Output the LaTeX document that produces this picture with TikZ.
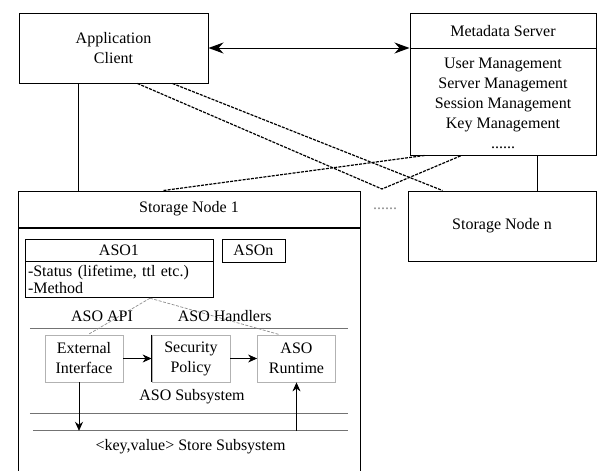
\documentclass[tikz,border=0pt]{standalone}
\usepackage{fontspec}
\setmainfont{Liberation Serif}
\usetikzlibrary{arrows.meta,positioning,calc}

\begin{document}
\begin{tikzpicture}[
    x=1pt, y=-1pt,
    >={Stealth[length=15pt, width=11pt]},
    every node/.style={font=\fontsize{16}{20}\selectfont, inner sep=0pt},
    sysbox/.style={rectangle, draw, line width=1pt, align=center},
    subbox/.style={rectangle, draw=black!30, line width=0.8pt, align=center, minimum width=78pt, minimum height=47pt},
    arrow/.style={-{Stealth[length=9pt, width=8pt]}, line width=0.8pt},
    link/.style={line width=1.2pt, dash pattern=on 3pt off 1.2pt},
    hint/.style={draw=black!45, line width=0.7pt, dash pattern=on 3pt off 1.5pt},
]
\useasboundingbox (0,0) rectangle (603,471);

% client and metadata server
\node[sysbox, minimum width=189pt, minimum height=70pt] (client) at (113.5,48) {Application\\Client};
\node[sysbox, minimum width=186pt, minimum height=142pt] (meta) at (503,84) {};
\node[minimum width=186pt, minimum height=36pt, below=0pt of meta.north] (metatitle) {Metadata Server};
\draw[line width=1pt] (metatitle.south west) -- (metatitle.south east);
\node[align=center] (metabody) at (503,103) {User Management\\Server Management\\Session Management\\Key Management\\......};

% storage nodes
\node[sysbox, minimum width=342pt, minimum height=36pt] (sn1) at (189,209) {Storage Node 1};
\node[sysbox, minimum width=342pt, minimum height=260pt, below=0pt of sn1] (sn1body) {};
\node[sysbox, minimum width=188pt, minimum height=70pt] (snn) at (502,226) {Storage Node n};
\node[text=black!45] (gap) at (385,209) {......};

\draw[<->, line width=1pt] (client.east) -- (client.east -| meta.west);
\draw[line width=0.8pt] ([xshift=60pt]client.south west) -- ([xshift=60pt]client.south west |- sn1.north);
\draw[line width=0.8pt] ([xshift=-59pt]meta.south east) -- ([xshift=-59pt]meta.south east |- snn.north);

\coordinate (vtip) at (382,189);
\draw[link] ([xshift=119pt]client.south west) -- (vtip) -- ([xshift=52pt]meta.south west);
\draw[link] ([xshift=154pt]client.south west) -- ([xshift=35pt]snn.north west);
\draw[link] ([xshift=146pt]sn1.north west) -- ([xshift=15pt]meta.south west);

% active storage objects
\node[sysbox, line width=0.8pt, minimum width=188pt, minimum height=22pt] (aso1) at (119,250) {ASO1};
\node[sysbox, line width=0.8pt, text width=182pt, inner xsep=3pt, minimum height=36pt, align=left,
      font=\fontsize{16}{17}\selectfont, below=0pt of aso1] (aso1body) {-Status (lifetime, ttl etc.)\\-Method};
\node[sysbox, line width=0.8pt, minimum width=63pt, minimum height=23pt] (ason) at (253.5,250.5) {ASOn};

% ASO subsystem
\node[minimum width=318pt, minimum height=84pt] (asosub) at (189,371) {};
\draw[black!55, line width=0.8pt] (asosub.north west) -- (asosub.north east) (asosub.south west) -- (asosub.south east);
\node (asosublabel) at (192,397) {ASO Subsystem};
\node[subbox] (ext) at (84,358.5) {External\\Interface};
\node[subbox] (sec) at (191,358.5) {Security\\Policy};
\draw[line width=1pt] (sec.north west) -- (sec.south west);
\node[subbox] (run) at (296.5,358.5) {ASO\\Runtime};

\node[minimum width=315pt, minimum height=32pt] (store) at (190.5,447) {\textless key,value\textgreater{} Store Subsystem};
\draw[black!55, line width=0.8pt] (store.north west) -- (store.north east);

\draw[arrow] (ext.east) -- (sec.west);
\draw[arrow] (sec.east) -- (run.west);
\draw[arrow] ([xshift=-5pt]ext.south) -- ([xshift=-5pt]ext.south |- store.north);
\draw[arrow] (run.south |- store.north) -- (run.south);

\coordinate (apiorigin) at ([xshift=31pt]aso1body.south);
\draw[hint] (apiorigin) -- node[xshift=-17pt] (apilabel) {ASO API} ([xshift=4pt]ext.north);
\draw[hint] (apiorigin) -- node[xshift=10pt] (handlerlabel) {ASO Handlers} ([xshift=-17pt]run.north);
\end{tikzpicture}
\end{document}
